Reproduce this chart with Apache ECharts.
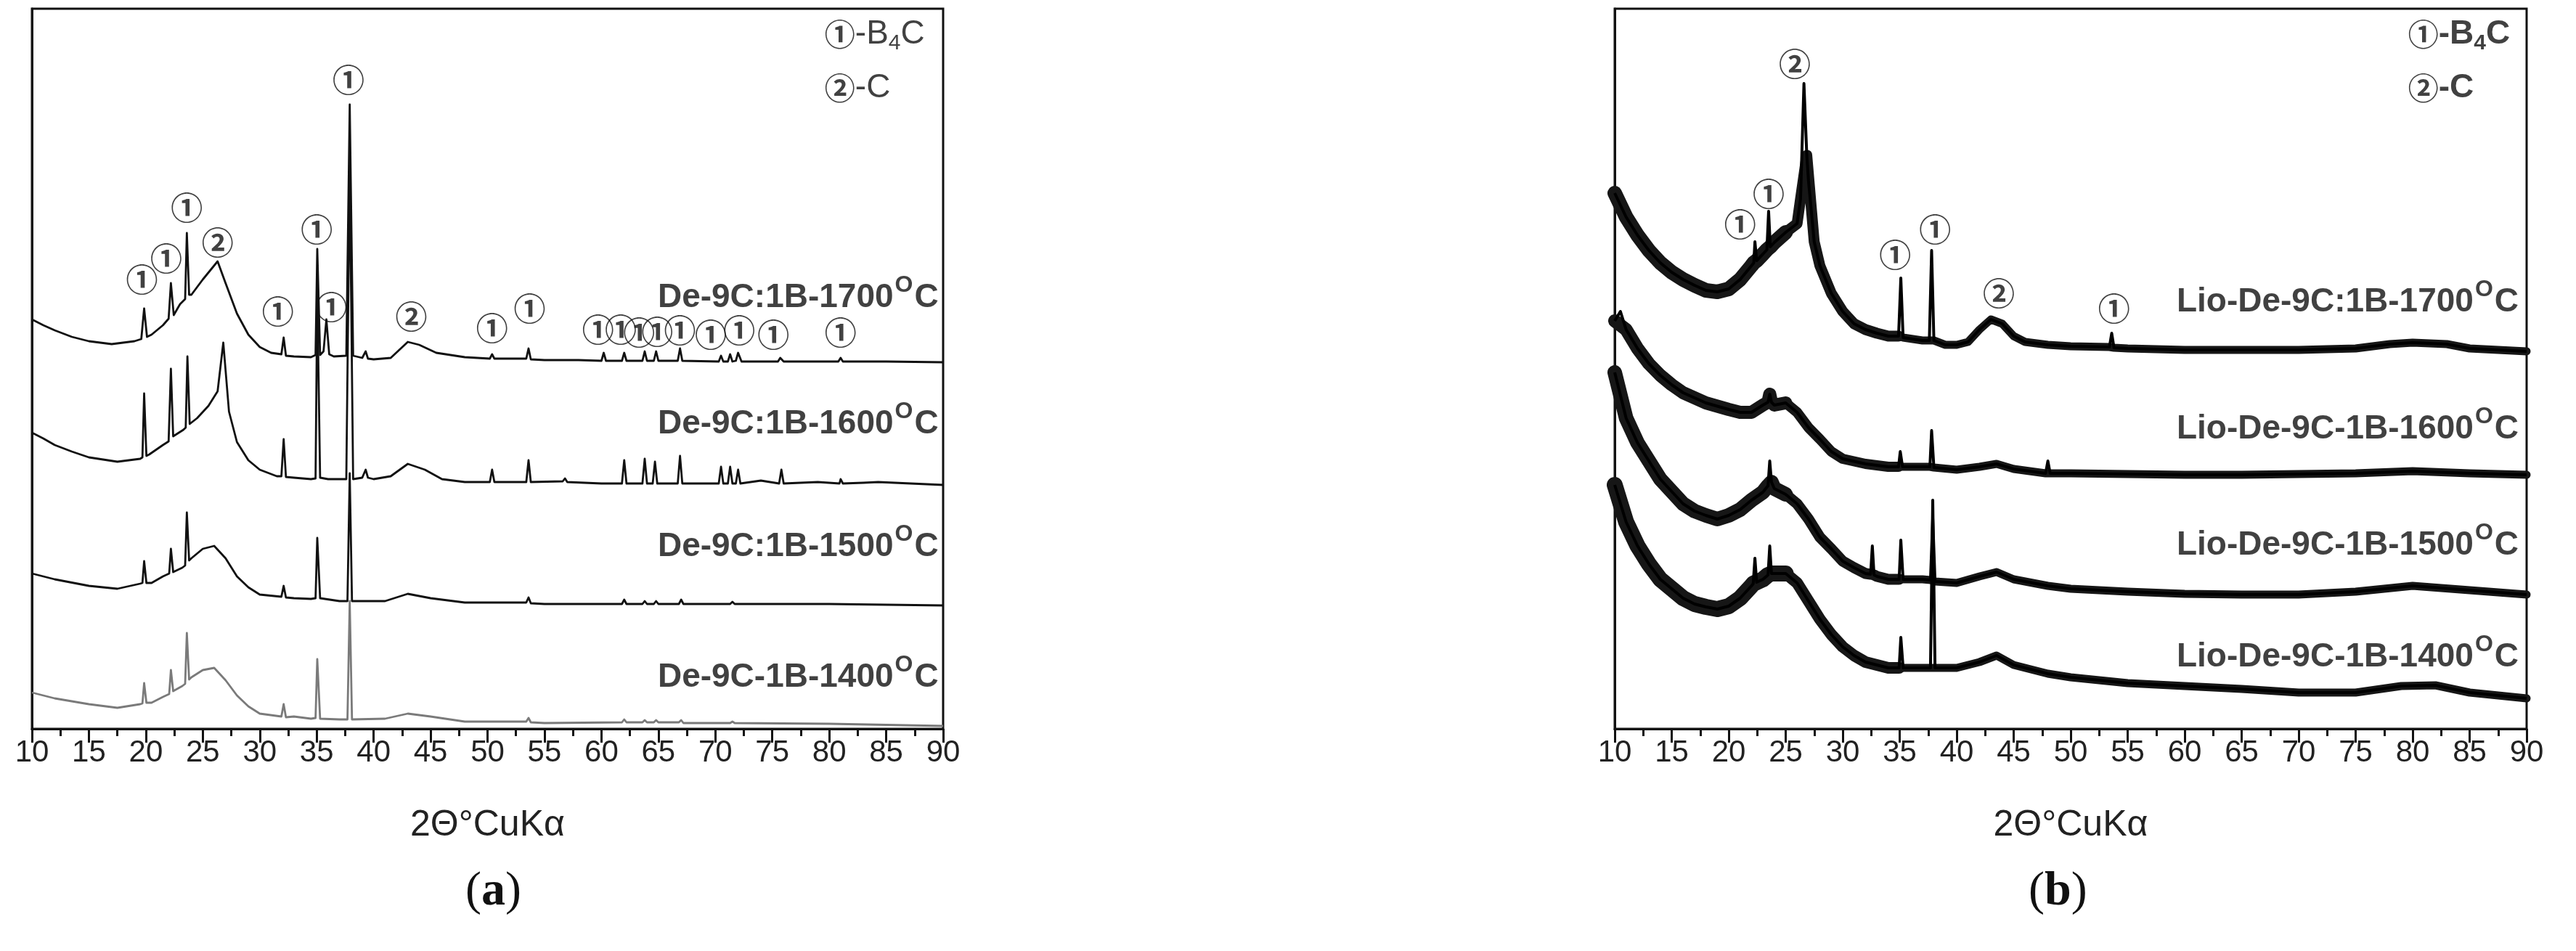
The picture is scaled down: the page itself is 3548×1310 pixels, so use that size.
<!DOCTYPE html>
<html><head><meta charset="utf-8">
<script src="https://cdn.jsdelivr.net/npm/echarts@6/dist/echarts.min.js"></script>
<style>html,body{margin:0;padding:0;background:#fff}#c{width:3548px;height:1310px}</style>
</head><body><div id="c"></div>
<script>
// ---------- tick labels ----------
const xTicks = [10,15,20,25,30,35,40,45,50,55,60,65,70,75,80,85,90];
const xTitle = '2\u0398\u00B0CuK\u03B1';

// ---------- panel (a): De-9C:1B samples (2θ, intensity a.u. incl. stacking offset) ----------
const a1700 = [[10,564],[11,556],[12,549],[13.5,540],[15,534],[17,530],[19,534],[19.6,537],[19.85,579],[20.1,540],[20.5,543],[21.5,556],[22.0,565],[22.2,614],[22.45,570],[23.0,585],[23.45,592],[23.6,683],[23.8,598],[24,598],[25,619],[26.3,644],[27,614],[28,572],[29,543],[30,526],[31,518],[31.9,516],[32.1,539],[32.3,514],[33,513],[34.5,512],[34.9,515],[35.05,661],[35.3,515],[35.6,520],[35.85,564],[36.1,516],[36.5,513],[37.6,514],[37.9,860],[38.2,514],[39,511],[39.3,520],[39.5,510],[40,509],[41.5,511],[43,533],[44,529],[45.5,518],[48,512],[50.2,510],[50.4,516],[50.6,510],[53.4,510],[53.6,524],[53.8,509],[55,508],[58,508],[60,507],[60.2,518],[60.4,507],[61.8,507],[62,518],[62.2,507],[63.6,507],[63.8,520],[64,507],[64.6,507],[64.8,520],[65,507],[66.7,507],[66.9,524],[67.1,507],[70.3,506],[70.5,514],[70.7,506],[71.1,506],[71.3,516],[71.5,506],[71.8,507],[72,518],[72.3,506],[75.5,506],[75.7,511],[76,506],[80.8,506],[81,511],[81.2,506],[85,506],[90,505]];
const a1600 = [[10,408],[11,400],[12,391],[13.5,382],[15,374],[17.5,368],[19.5,372],[19.7,374],[19.85,462],[20.05,376],[20.3,378],[21.5,391],[22.0,396],[22.2,496],[22.4,403],[23.3,412],[23.5,415],[23.65,513],[23.85,420],[24.5,428],[25.5,445],[26.3,465],[26.8,532],[27.3,437],[28,395],[29,370],[30,357],[31.5,348],[31.9,348],[32.1,399],[32.3,347],[33,346],[34.5,344],[34.9,345],[35.05,600],[35.3,346],[36,344],[37.6,344],[37.9,773],[38.2,344],[39,346],[39.3,357],[39.5,346],[40,344],[41.5,348],[43,365],[44.5,357],[46,344],[48,340],[50.2,340],[50.4,357],[50.6,340],[53.4,340],[53.6,370],[53.8,340],[56.6,341],[56.8,345],[57,340],[60,338],[61.8,338],[62,370],[62.2,338],[63.6,338],[63.8,372],[64,338],[64.5,338],[64.7,368],[64.9,338],[66.7,338],[66.9,376],[67.1,338],[69,338],[70.3,338],[70.5,361],[70.7,338],[71.1,338],[71.3,361],[71.5,338],[71.8,338],[72,357],[72.2,338],[74,342],[75.6,338],[75.8,357],[76,338],[79,340],[80.9,338],[81,344],[81.2,338],[83,339],[84.3,340],[90,336]];
const a1500 = [[10,214],[12,206],[15,197],[17.5,193],[19.5,200],[19.7,201],[19.85,231],[20.05,201],[20.5,201],[21.5,210],[22.05,214],[22.2,248],[22.4,216],[23.2,222],[23.45,225],[23.6,298],[23.8,232],[24,235],[25,248],[26,252],[27,235],[28,210],[29,195],[30,185],[31.9,182],[32.1,197],[32.3,181],[33,180],[34.5,179],[34.9,180],[35.05,263],[35.3,180],[37,176],[37.7,176],[37.9,352],[38.1,176],[41,176],[43,186],[45,180],[48,174],[50,174],[53.4,174],[53.6,181],[53.8,173],[55,172],[61.8,172],[62,178],[62.2,172],[63.6,172],[63.8,176],[64,172],[64.6,172],[64.8,176],[65,172],[66.8,172],[67,178],[67.2,172],[71.3,172],[71.5,175],[71.7,172],[80,172],[90,170]];
const a1400 = [[10,50],[12,42],[15,34],[17.5,29],[19.5,34],[19.7,35],[19.85,63],[20.05,36],[20.5,36],[21.5,44],[22.05,48],[22.2,81],[22.4,52],[23.2,59],[23.45,62],[23.6,132],[23.8,68],[24,71],[25,81],[26,84],[27,67],[28,46],[29,31],[30,21],[31.9,17],[32.1,34],[32.3,16],[33,17],[34.5,14],[34.9,15],[35.05,96],[35.3,14],[37,13],[37.7,13],[37.9,176],[38.1,13],[41,14],[43,21],[45,17],[48,10],[53.4,10],[53.6,15],[53.8,9],[55,8],[61.8,9],[62,13],[62.2,9],[63.6,9],[63.8,12],[64,9],[64.6,9],[64.8,12],[65,9],[66.8,9],[67,12],[67.2,8],[71.3,8],[71.5,10],[71.7,8],[80,7],[90,4]];

// ---------- panel (b): Lio-De-9C samples ----------
const b1700 = [[10,738],[11,705],[12,680],[13,659],[14,642],[15,629],[16,619],[17,611],[18,604],[19,602],[20,606],[21,619],[22,638],[22.2,642],[22.3,671],[22.45,645],[23,654],[23.35,660],[23.5,713],[23.65,664],[24,670],[25,684],[26,696],[26.3,730],[26.6,889],[26.85,790],[27,755],[27.5,671],[28,638],[29,600],[30,575],[31,558],[32,550],[33,545],[34,541],[34.9,541],[35.1,621],[35.3,539],[37,535],[37.6,535],[37.8,659],[38,535],[39,529],[40,529],[41,533],[42,550],[43,564],[44,558],[45,541],[46,533],[48,529],[50,527],[53.4,526],[53.6,545],[53.8,525],[55,524],[60,522],[65,522],[70,522],[75,524],[78,530],[80,532],[83,530],[85,524],[90,520]];
const b1600 = [[10,562],[10.5,575],[11,550],[12,524],[13,503],[14,487],[15,474],[16,463],[18,449],[20,440],[21,436],[22,436],[23,446],[23.45,450],[23.6,461],[23.75,450],[24,446],[25,449],[26,436],[27,415],[28,399],[29,382],[30,372],[32,365],[34,361],[34.9,361],[35.05,382],[35.25,361],[37,361],[37.65,361],[37.8,411],[38,360],[40,357],[42,361],[43.5,365],[45,358],[47.8,352],[48,369],[48.2,352],[50,352],[55,351],[60,350],[65,350],[70,351],[75,352],[80,355],[85,352],[90,350]];
const b1500 = [[10,491],[11,428],[12,394],[13,369],[14,344],[15,327],[16,310],[17,300],[18,294],[19,289],[20,294],[21,302],[22,315],[23,326],[23.45,335],[23.6,369],[23.75,340],[24,331],[25,323],[26,310],[27,289],[28,264],[29,248],[30,231],[31,222],[32,214],[32.45,213],[32.6,252],[32.75,212],[33,210],[34,206],[34.95,206],[35.1,260],[35.3,206],[37,206],[37.7,205],[37.9,290],[38.1,203],[40,201],[42,210],[43.5,216],[45,206],[48,197],[50,193],[55,189],[60,186],[65,185],[70,185],[75,189],[80,197],[85,191],[90,185]];
const b1400 = [[10,336],[11,285],[12,252],[13,227],[14,206],[15,193],[16,180],[17,172],[18,168],[19,165],[20,169],[21,180],[22,197],[22.15,200],[22.3,235],[22.45,202],[23,206],[23.45,212],[23.6,252],[23.75,214],[24,214],[25,214],[26,201],[27,176],[28,151],[29,130],[30,113],[31,101],[32,92],[33,88],[34,84],[34.95,84],[35.1,126],[35.3,84],[37,84],[37.7,84],[37.9,315],[38.1,84],[40,84],[42,92],[43.5,101],[45,88],[48,76],[50,71],[55,63],[60,59],[65,55],[70,50],[75,50],[79,59],[82,60],[85,50],[90,42]];

// ---------- sample names and label anchor (2θ, a.u.) ----------
const aNames = ['De-9C:1B-1700','De-9C:1B-1600','De-9C:1B-1500','De-9C-1B-1400'];
const aNamePos = [[89.6,599],[89.6,425],[89.6,256],[89.6,76]];
const bNames = ['Lio-De-9C:1B-1700','Lio-De-9C-1B-1600','Lio-De-9C-1B-1500','Lio-De-9C-1B-1400'];
const bNamePos = [[89.3,593],[89.3,418],[89.3,258],[89.3,104]];

// ---------- phase marks: [2θ, a.u., phase] ----------
const aMarks = [[19.65,619,1],[21.8,648,1],[23.6,718,1],[26.3,670,2],[35.0,688,1],[37.8,894,1],[31.6,575,1],[36.3,581,1],[43.3,568,2],[50.4,552,1],[53.7,579,1],[59.7,550,1],[61.7,550,1],[63.3,546,1],[64.9,547,1],[66.9,549,1],[69.6,543,1],[72.1,549,1],[75.1,543,1],[81.0,546,1]];
const bMarks = [[21.0,695,1],[23.5,737,1],[25.8,916,2],[34.6,653,1],[38.1,688,1],[43.7,600,2],[53.8,579,1]];
const legendPos = [[79.6,957],[79.6,883]];

const CIRC = {1:'\u2460',2:'\u2461'};
const SANS = 'Liberation Sans, Arial, sans-serif';
const CJK = 'Noto Sans CJK JP';

const chart = echarts.init(document.getElementById('c'), null, {renderer:'canvas'});

function xAxisCfg(gi){
  return {
    gridIndex: gi, type:'value', min:10, max:90, interval:5,
    name: xTitle, nameLocation:'middle', nameGap:108,
    nameTextStyle:{fontFamily:SANS, fontSize:50, color:'#222'},
    axisLine:{show:true, onZero:false, lineStyle:{color:'#111', width:3}},
    axisTick:{show:true, inside:false, length:19, lineStyle:{color:'#111', width:3}},
    minorTick:{show:true, splitNumber:2, length:10, lineStyle:{color:'#111', width:3}},
    axisLabel:{fontFamily:SANS, fontSize:42, color:'#222', margin:12,
      formatter: v => xTicks.indexOf(v) >= 0 ? String(v) : ''},
    splitLine:{show:false}, minorSplitLine:{show:false}
  };
}
function yAxisCfg(gi){
  return {gridIndex:gi, type:'value', min:0, max:992,
    axisLine:{show:true, lineStyle:{color:'#111', width:3}},
    axisTick:{show:false}, axisLabel:{show:false}, splitLine:{show:false}};
}
function lineS(gi, data, color, w){
  return {type:'line', xAxisIndex:gi, yAxisIndex:gi, data:data, showSymbol:false, symbol:'none',
    lineStyle:{color:color, width:w, join:'round'}, silent:true, animation:false, z:3};
}
// noisy-band look for panel (b): the measured points without the sharp reflections,
// drawn wide (the background noise band is wider at low angles)
function noSpikes(data){
  return data.filter((p,i)=> i===0 || i===data.length-1 ||
    p[1] - (data[i-1][1] + data[i+1][1]) / 2 < 15);
}
function bandS(gi, data, lo, hi, w){
  return {type:'line', xAxisIndex:gi, yAxisIndex:gi,
    data:noSpikes(data).filter(p=>p[0]>=lo && p[0]<=hi),
    showSymbol:false, symbol:'none',
    lineStyle:{color:'#161616', width:w, join:'round', cap:'round'}, silent:true, animation:false, z:2};
}
function nameS(gi, names, pos, fw){
  return {type:'scatter', xAxisIndex:gi, yAxisIndex:gi, symbolSize:0, silent:true, animation:false, z:5,
    data: names.map((n,i)=>({value:pos[i], name:n})),
    label:{show:true, position:'inside', align:'right', verticalAlign:'middle',
      formatter: p => '{m|' + p.name + '}{s|O}{m|C}',
      rich:{
        m:{fontFamily:SANS, fontWeight:fw, fontSize:46, color:'#111', lineHeight:56, verticalAlign:'bottom'},
        s:{fontFamily:SANS, fontWeight:fw, fontSize:32, color:'#111', lineHeight:56, verticalAlign:'top', padding:[0,2,0,2]}
      }}};
}
function markS(gi, marks){
  return {type:'scatter', xAxisIndex:gi, yAxisIndex:gi, symbolSize:0, silent:true, animation:false, z:5,
    data: marks.map(m=>({value:[m[0],m[1]], name:CIRC[m[2]]})),
    label:{show:true, position:'inside', formatter: p => p.name,
      fontFamily:CJK, fontSize:44, fontWeight:'bold', color:'#111'}};
}
function legendS(gi, fw){
  return {type:'scatter', xAxisIndex:gi, yAxisIndex:gi, symbolSize:0, silent:true, animation:false, z:5,
    data:[{value:legendPos[0], name:'B4C'},{value:legendPos[1], name:'C'}],
    label:{show:true, position:'inside', align:'left', verticalAlign:'middle',
      formatter: p => p.name==='B4C' ? '{c|\u2460}{t|-B}{u|4}{t|C}' : '{c|\u2461}{t|-C}',
      rich:{
        c:{fontFamily:CJK, fontSize:42, fontWeight:'bold', color:'#111', lineHeight:56, verticalAlign:'middle'},
        t:{fontFamily:SANS, fontWeight:fw, fontSize:46, color:'#111', lineHeight:56, verticalAlign:'middle'},
        u:{fontFamily:SANS, fontWeight:fw, fontSize:30, color:'#111', lineHeight:56, verticalAlign:'bottom'}
      }}};
}
function capT(cx, letter){
  return {type:'text', left:cx-42, top:1196, style:{text:'{p|(}{b|'+letter+'}{p|)}', rich:{
    p:{fontFamily:'Liberation Serif', fontSize:66, fill:'#111'},
    b:{fontFamily:'Liberation Serif', fontSize:66, fontWeight:'bold', fill:'#111'}}}};
}

chart.setOption({
  animation:false,
  backgroundColor:'#fff',
  grid:[
    {left:44, right:3548-1299, top:12, bottom:1310-1004, show:true, borderColor:'#111', borderWidth:3, containLabel:false},
    {left:2224, right:3548-3480, top:12, bottom:1310-1004, show:true, borderColor:'#111', borderWidth:3, containLabel:false}
  ],
  xAxis:[xAxisCfg(0), xAxisCfg(1)],
  yAxis:[yAxisCfg(0), yAxisCfg(1)],
  graphic:[capT(683,'a'), capT(2836,'b')],
  series:[
    lineS(0, a1700, '#111', 2.8),
    lineS(0, a1600, '#111', 2.8),
    lineS(0, a1500, '#111', 2.8),
    lineS(0, a1400, '#7a7a7a', 2.8),
    bandS(1, b1700, 10, 25, 20), bandS(1, b1700, 24, 35, 15), bandS(1, b1700, 34, 90, 11),
    bandS(1, b1600, 10, 25, 18), bandS(1, b1600, 24, 35, 14), bandS(1, b1600, 34, 90, 11),
    bandS(1, b1500, 10, 25, 20), bandS(1, b1500, 24, 35, 15), bandS(1, b1500, 34, 90, 11),
    bandS(1, b1400, 10, 25, 22), bandS(1, b1400, 24, 35, 16), bandS(1, b1400, 34, 90, 11),
    lineS(1, b1700, '#000', 4),
    lineS(1, b1600, '#000', 4),
    lineS(1, b1500, '#000', 4),
    lineS(1, b1400, '#000', 4),
    nameS(0, aNames, aNamePos, 'bold'),
    nameS(1, bNames, bNamePos, 'bold'),
    markS(0, aMarks), markS(1, bMarks),
    legendS(0, 'normal'), legendS(1, 'bold')
  ]
});
</script></body></html>
